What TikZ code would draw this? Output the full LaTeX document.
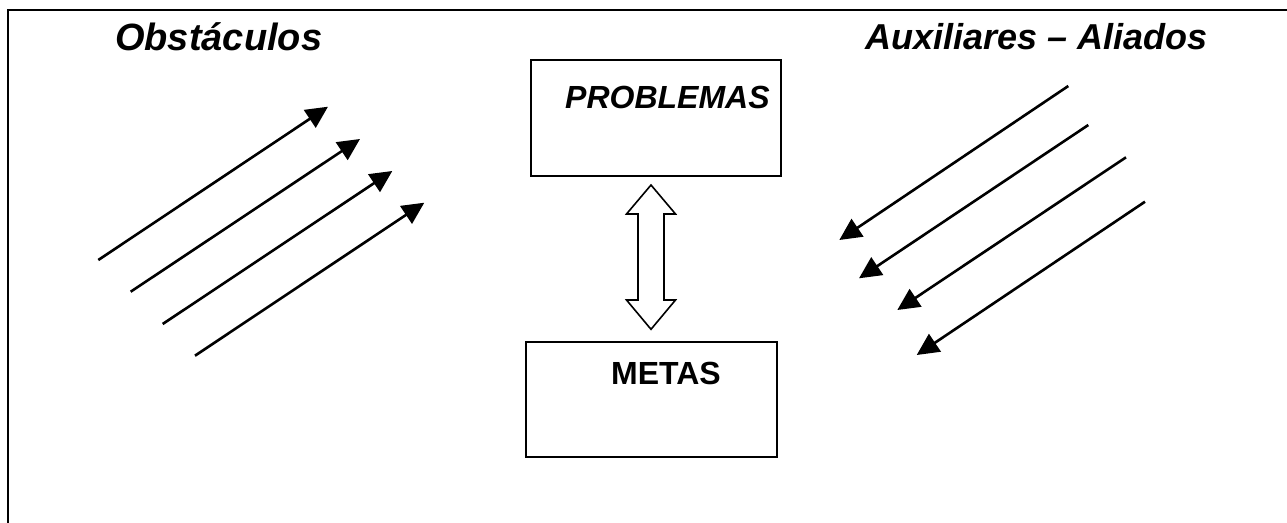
\documentclass[tikz,border=0pt]{standalone}
\usepackage{fontspec}
\setmainfont{Liberation Sans}
\usetikzlibrary{arrows.meta}
\begin{document}
\begin{tikzpicture}[x=1pt,y=-1pt,
  frameline/.style={line width=2.6pt},
  boxstyle/.style={draw,line width=2.3pt,rectangle,inner sep=0pt},
  title/.style={anchor=base west,inner sep=0pt,font=\fontsize{38}{42}\selectfont\bfseries\itshape},
  boxtext/.style={anchor=base west,inner sep=0pt,font=\fontsize{32}{36}\selectfont\bfseries},
  flow/.style={line width=2.6pt,-{Triangle[length=22pt,width=21pt]}},
  dbl/.style={line width=1.6pt,fill=white,line join=miter}]
\useasboundingbox (0,0) rectangle (1287,522);
% frame
\draw[frameline] (8,523) -- (8,10) -- (1288,10);
% titles
\node[title] (obst) at (115,50) {Obstáculos};
\node[title,font=\fontsize{36}{40}\selectfont\bfseries\itshape] (aux) at (865,49) {Auxiliares – Aliados};
% boxes
\node[boxstyle,minimum width=250pt,minimum height=115.7pt] (problems) at (655.7,117.85) {};
\node[boxtext,font=\fontsize{32}{36}\selectfont\bfseries\itshape] (ptext) at (565,108) {PROBLEMAS};
\node[boxstyle,minimum width=250.7pt,minimum height=115.3pt] (metas) at (651.35,399.35) {};
\node[boxtext] (mtext) at (611,384) {METAS};
% double arrow between the boxes
\draw[dbl] (651,185) -- (675.5,214) -- (664,214) -- (664,300) -- (675.5,300)
  -- (651,329.3) -- (626.5,300) -- (638,300) -- (638,214) -- (626.5,214) -- cycle;
% left arrows
\coordinate (l1s) at (98.3,260);   \coordinate (l1e) at (328,106.7);
\coordinate (l2s) at (130.7,291.7); \coordinate (l2e) at (360,139);
\coordinate (l3s) at (162.7,324);  \coordinate (l3e) at (392.3,171);
\coordinate (l4s) at (195,355.7);  \coordinate (l4e) at (424.3,202.7);
\foreach \i in {1,2,3,4} \draw[flow] (l\i s) -- (l\i e);
% right arrows
\coordinate (r1s) at (1068.3,86);  \coordinate (r1e) at (839.3,240);
\coordinate (r2s) at (1088.3,125); \coordinate (r2e) at (859,278.3);
\coordinate (r3s) at (1126,157.3); \coordinate (r3e) at (897.3,310);
\coordinate (r4s) at (1145,201.7); \coordinate (r4e) at (916.7,355);
\foreach \i in {1,2,3,4} \draw[flow] (r\i s) -- (r\i e);
\end{tikzpicture}
\end{document}
